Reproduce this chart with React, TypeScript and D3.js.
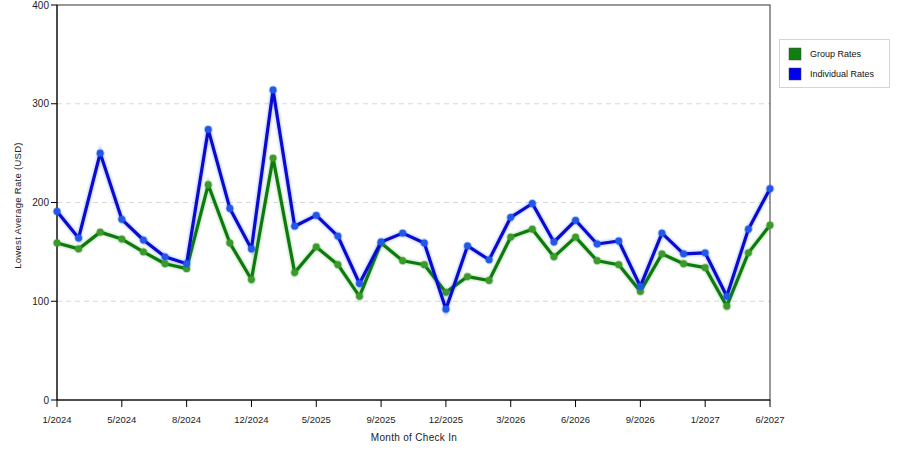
import React from 'react';
import * as d3 from 'd3';

// months with data (only every 3rd one is labelled on the axis)
const months = [
  '1/2024', '2/2024', '3/2024', '5/2024', '6/2024', '7/2024', '8/2024', '9/2024', '10/2024',
  '12/2024', '1/2025', '3/2025', '5/2025', '6/2025', '7/2025', '9/2025', '10/2025', '11/2025',
  '12/2025', '1/2026', '2/2026', '3/2026', '4/2026', '5/2026', '6/2026', '7/2026', '8/2026',
  '9/2026', '10/2026', '11/2026', '1/2027', '3/2027', '4/2027', '6/2027',
];

const groupRates = [
  159, 153, 170, 163, 150, 138, 133, 218, 159, 122, 245, 129, 155, 137, 105, 159, 141,
  137, 109, 125, 121, 165, 173, 145, 165, 141, 137, 110, 148, 138, 134, 95, 149, 177,
];

const individualRates = [
  191, 164, 250, 183, 162, 145, 138, 274, 194, 153, 314, 176, 187, 166, 118, 160, 169,
  159, 92, 156, 142, 185, 199, 160, 182, 158, 161, 115, 169, 148, 149, 105, 173, 214,
];

const yTicks = [0, 100, 200, 300, 400];

const series = [
  { name: 'Group Rates', values: groupRates, line: '#0c7a0c', dot: '#3c9a2c', swatch: '#0f7f0f' },
  { name: 'Individual Rates', values: individualRates, line: '#0a0ad0', dot: '#2258e8', swatch: '#0000ee' },
];

const font = '"Liberation Sans", Arial, sans-serif';

export default function App() {
  const width = 900;
  const height = 450;
  const left = 57;
  const right = 770;
  const top = 5;
  const bottom = 400;

  const x = d3.scalePoint<string>().domain(months).range([left, right]);
  const y = d3.scaleLinear().domain([0, 400]).range([bottom, top]);

  const line = d3
    .line<number>()
    .x((_, i) => x(months[i]) as number)
    .y(d => y(d));

  const labelled = months.filter((_, i) => i % 3 === 0);

  return (
    <svg
      width={width}
      height={height}
      style={{ position: 'absolute', left: 0, top: 0, background: '#fff' }}
      fontFamily={font}
    >
      <defs>
        <filter id="glow" filterUnits="userSpaceOnUse" x={0} y={0} width={width} height={height}>
          <feGaussianBlur stdDeviation="1" />
        </filter>
      </defs>

      {/* grid */}
      {yTicks.slice(1, 4).map(t => (
        <line key={t} x1={left} x2={right} y1={y(t)} y2={y(t)} stroke="#d8d8d8" strokeDasharray="5,4" />
      ))}

      {/* frame */}
      <rect x={left} y={top} width={right - left} height={bottom - top} fill="none" stroke="#333" strokeWidth={1} />
      <line x1={left} x2={left} y1={top} y2={bottom} stroke="#000" />
      <line x1={left} x2={right} y1={bottom} y2={bottom} stroke="#000" />

      {/* y axis */}
      {yTicks.map(t => (
        <g key={t}>
          <line x1={left - 6} x2={left} y1={y(t)} y2={y(t)} stroke="#000" />
          <text x={left - 8} y={y(t)} dy="0.35em" textAnchor="end" fontSize={10} fill="#222">
            {t}
          </text>
        </g>
      ))}
      <text
        transform={`translate(21,${(top + bottom) / 2 + 3}) rotate(-90)`}
        textAnchor="middle"
        fontSize={9.5}
        fill="#222"
        letterSpacing={0.3}
      >
        Lowest Average Rate (USD)
      </text>

      {/* x axis */}
      {labelled.map(m => (
        <g key={m}>
          <line x1={x(m)} x2={x(m)} y1={bottom} y2={bottom + 7} stroke="#000" />
          <text x={x(m)} y={bottom + 23} textAnchor="middle" fontSize={9.5} fill="#222">
            {m}
          </text>
        </g>
      ))}
      <text x={414} y={441} textAnchor="middle" fontSize={10} fill="#222" letterSpacing={0.3}>
        Month of Check In
      </text>

      {/* series */}
      {series.map(s => (
        <g key={s.name}>
          <path d={line(s.values) ?? ''} fill="none" stroke={s.dot} strokeOpacity={0.3} strokeWidth={5} filter="url(#glow)" />
          <path d={line(s.values) ?? ''} fill="none" stroke={s.line} strokeWidth={3.2} strokeLinejoin="round" />
          {s.values.map((v, i) => (
            <g key={i}>
              <circle cx={x(months[i])} cy={y(v)} r={4.4} fill={s.dot} opacity={0.3} />
              <circle cx={x(months[i])} cy={y(v)} r={3.4} fill={s.dot} />
            </g>
          ))}
        </g>
      ))}

      {/* legend */}
      <rect x={779.5} y={39.5} width={110} height={48} fill="#fff" stroke="#d4d4d4" />
      {series.map((s, i) => (
        <g key={s.name} transform={`translate(789,${48 + i * 20})`}>
          <rect width={12} height={12} fill={s.swatch} stroke="#444" strokeWidth={0.5} />
          <text x={21} y={6} dy="0.35em" fontSize={9} fill="#111">
            {s.name}
          </text>
        </g>
      ))}
    </svg>
  );
}
